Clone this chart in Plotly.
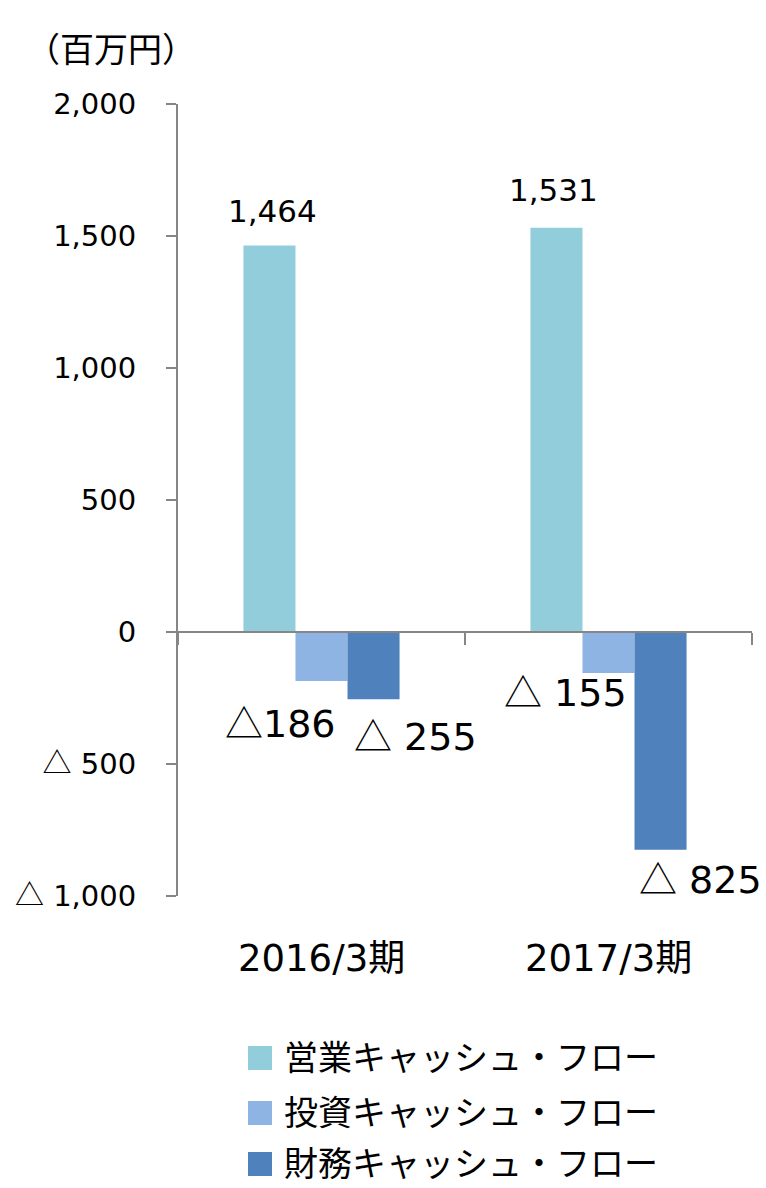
import plotly.graph_objects as go

periods = ["2016/3期", "2017/3期"]
series_names = ["営業キャッシュ・フロー", "投資キャッシュ・フロー", "財務キャッシュ・フロー"]
operating = [1464, 1531]
investing = [-186, -155]
financing = [-255, -825]
colors = ["#92CDDC", "#8EB4E3", "#4F81BD"]

TRI = '<span style="font-family:Noto Sans CJK JP">△</span>'
y_ticks = [-1000, -500, 0, 500, 1000, 1500, 2000]
y_ticktext = [TRI + " 1,000", TRI + " 500", "0", "500", "1,000", "1,500", "2,000"]
label_text = [["1,464", "1,531"], [TRI + "186", TRI + " 155"], [TRI + " 255", TRI + " 825"]]

W, H = 766, 1188
L, R, T, B = 178, 14, 104, 292
ymin, ymax = -1000, 2000
FONT = "DejaVu Sans, Noto Sans CJK JP"
GRAY = "#868686"

def px(x):
    return (x - L) / (W - L - R)

def py(y):
    return (H - B - y) / (H - T - B)

values = [operating, investing, financing]
fig = go.Figure()
for name, vals, c in zip(series_names, values, colors):
    fig.add_trace(go.Bar(x=periods, y=vals, name=name, marker_color=c,
                         marker_line_width=0, showlegend=False))

bargap = 0.456
cat_px = (W - L - R) / len(periods)
bar_px = cat_px * (1 - bargap) / 3

# label offsets (px) relative to each bar's centre/end
offsets = [[(3, 35), (-3, 38)],
           [(-41, -39), (-43, -17)],
           [(42, -34), (40, -27)]]
sizes = [31, 38, 38]
for i, vals in enumerate(values):
    for j, v in enumerate(vals):
        dx, dy = offsets[i][j]
        fig.add_annotation(x=periods[j], y=v, xref="x", yref="y",
                           text=label_text[i][j], showarrow=False,
                           xshift=(i - 1) * bar_px + dx, yshift=dy,
                           xanchor="center", yanchor="middle",
                           font=dict(family=FONT, size=sizes[i], color="black"))

# category labels at the bottom
for p in periods:
    fig.add_annotation(x=p, y=py(958), xref="x", yref="paper", text=p,
                       showarrow=False, yanchor="middle",
                       font=dict(family=FONT, size=37, color="black"))

# unit
fig.add_annotation(x=px(24), y=py(48), xref="paper", yref="paper",
                   text="（百万円）", showarrow=False, xanchor="left", yanchor="middle",
                   font=dict(family="Noto Sans CJK JP", size=34, color="black"))

# legend drawn by hand (bigger swatches than plotly's own)
rows = [1058, 1113, 1164]
for name, c, yc in zip(series_names, colors, rows):
    fig.add_shape(type="rect", xref="paper", yref="paper",
                  x0=px(248), x1=px(272), y0=py(yc - 12), y1=py(yc + 12),
                  fillcolor=c, line_width=0)
    fig.add_annotation(x=px(282), y=py(yc - 3), xref="paper", yref="paper",
                       text=name, showarrow=False, xanchor="left", yanchor="middle",
                       font=dict(family="Noto Sans CJK JP", size=34, color="black"))

fig.update_layout(
    width=W, height=H,
    margin=dict(l=L, r=R, t=T, b=B, pad=0),
    paper_bgcolor="white", plot_bgcolor="white",
    barmode="group", bargap=bargap, bargroupgap=0,
    xaxis=dict(anchor="free", position=(0 - ymin) / (ymax - ymin),
               showline=True, linecolor=GRAY, linewidth=2,
               ticks="outside", tickson="boundaries", ticklen=12,
               tickcolor=GRAY, tickwidth=2, showticklabels=False,
               showgrid=False, zeroline=False, range=[-0.5, 1.5]),
    yaxis=dict(range=[ymin, ymax], tickvals=y_ticks, ticktext=y_ticktext,
               showline=True, linecolor=GRAY, linewidth=2,
               ticks="outside", ticklen=10, tickcolor=GRAY, tickwidth=2,
               ticklabelstandoff=24, showgrid=False, zeroline=False,
               tickfont=dict(family=FONT, size=29, color="black")),
)

fig.write_html("out.html", config={"displayModeBar": False},
               post_script="document.body.style.margin='0';")
